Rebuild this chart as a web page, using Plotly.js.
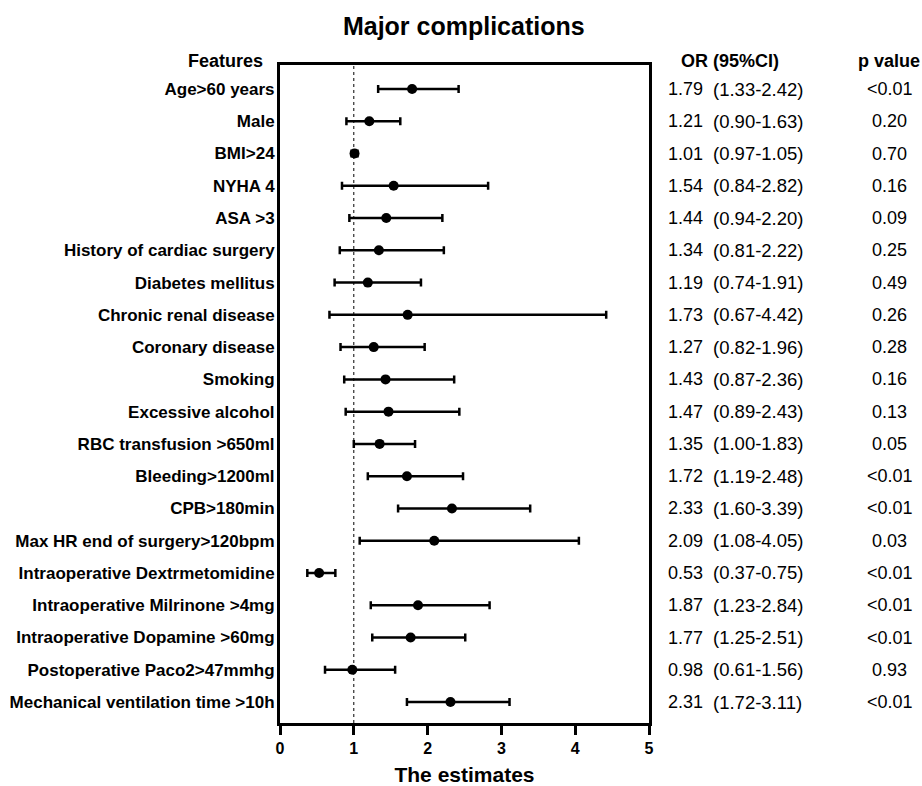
<!DOCTYPE html>
<html>
<head>
<meta charset="utf-8">
<script src="https://cdn.plot.ly/plotly-3.0.1.min.js"></script>
<style>html,body{margin:0;padding:0;background:#fff;}#chart{width:922px;height:786px;}</style>
</head>
<body>
<div id="chart"></div>
<script>
const features = ["Age>60 years","Male","BMI>24","NYHA 4","ASA >3","History of cardiac surgery","Diabetes mellitus","Chronic renal disease","Coronary disease","Smoking","Excessive alcohol","RBC transfusion >650ml","Bleeding>1200ml","CPB>180min","Max HR end of surgery>120bpm","Intraoperative Dextrmetomidine","Intraoperative Milrinone >4mg","Intraoperative Dopamine >60mg","Postoperative Paco2>47mmhg","Mechanical ventilation time >10h"];
const orValues = [1.79,1.21,1.01,1.54,1.44,1.34,1.19,1.73,1.27,1.43,1.47,1.35,1.72,2.33,2.09,0.53,1.87,1.77,0.98,2.31];
const ciLower = [1.33,0.90,0.97,0.84,0.94,0.81,0.74,0.67,0.82,0.87,0.89,1.00,1.19,1.60,1.08,0.37,1.23,1.25,0.61,1.72];
const ciUpper = [2.42,1.63,1.05,2.82,2.20,2.22,1.91,4.42,1.96,2.36,2.43,1.83,2.48,3.39,4.05,0.75,2.84,2.51,1.56,3.11];
const pValues = ["<0.01","0.20","0.70","0.16","0.09","0.25","0.49","0.26","0.28","0.16","0.13","0.05","<0.01","<0.01","0.03","<0.01","<0.01","<0.01","0.93","<0.01"];
const xTicks = [0,1,2,3,4,5];
const refValue = 1;

const rows = features.map((_, i) => i + 1);
const FONT = "Liberation Sans, Arial, Helvetica, sans-serif";

const trace = {
  type: "scatter",
  mode: "markers",
  x: orValues,
  y: rows,
  marker: {color: "#000", size: 10, symbol: "circle"},
  error_x: {
    type: "data",
    symmetric: false,
    array: orValues.map((v, i) => +(ciUpper[i] - v).toFixed(4)),
    arrayminus: orValues.map((v, i) => +(v - ciLower[i]).toFixed(4)),
    color: "#000",
    thickness: 2.5,
    width: 4
  },
  hoverinfo: "skip",
  showlegend: false
};

const annotations = [];
rows.forEach((r, i) => {
  annotations.push({xref: "paper", yref: "y", x: 1.046, y: r, xanchor: "left", yanchor: "middle",
    text: orValues[i].toFixed(2), showarrow: false, font: {family: FONT, size: 18, color: "#000"}});
  annotations.push({xref: "paper", yref: "y", x: 1.168, y: r, xanchor: "left", yanchor: "middle",
    text: "(" + ciLower[i].toFixed(2) + "-" + ciUpper[i].toFixed(2) + ")", showarrow: false,
    font: {family: FONT, size: 18.5, color: "#000"}});
  annotations.push({xref: "paper", yref: "y", x: 1.653, y: r, xanchor: "center", yanchor: "middle",
    text: pValues[i], showarrow: false, font: {family: FONT, size: 18, color: "#000"}});
});
annotations.push({xref: "paper", yref: "paper", x: -0.041, y: 1.0065, xanchor: "right", yanchor: "middle",
  text: "Features", showarrow: false, font: {family: FONT, size: 18, color: "#000", weight: "bold"}});
annotations.push({xref: "paper", yref: "paper", x: 1.22, y: 1.0065, xanchor: "center", yanchor: "middle",
  text: "OR (95%CI)", showarrow: false, font: {family: FONT, size: 18, color: "#000", weight: "bold"}});
annotations.push({xref: "paper", yref: "paper", x: 1.651, y: 1.0065, xanchor: "center", yanchor: "middle",
  text: "p value", showarrow: false, font: {family: FONT, size: 18, color: "#000", weight: "bold"}});

const layout = {
  width: 922, height: 786,
  margin: {l: 280, r: 273, t: 65, b: 63, pad: 0},
  paper_bgcolor: "#fff", plot_bgcolor: "#fff",
  title: {text: "Major complications", x: 0.503, xanchor: "center", xref: "container",
    y: 0.966, yanchor: "middle", yref: "container",
    font: {family: FONT, size: 25, color: "#000", weight: "bold"}},
  xaxis: {
    range: [0, 5], tickvals: xTicks, ticktext: xTicks.map(String),
    showgrid: false, zeroline: false,
    showline: true, linecolor: "#000", linewidth: 3, mirror: true,
    ticks: "outside", ticklen: 9, tickwidth: 3, tickcolor: "#000",
    tickfont: {family: FONT, size: 16, color: "#000", weight: "bold"},
    title: {text: "The estimates", standoff: 15, font: {family: FONT, size: 21, color: "#000", weight: "bold"}},
    fixedrange: true
  },
  yaxis: {
    range: [20.65, 0.256], tickvals: rows, ticktext: features,
    showgrid: false, zeroline: false,
    showline: true, linecolor: "#000", linewidth: 3, mirror: true,
    ticks: "", ticklabelstandoff: -1,
    tickfont: {family: FONT, size: 17, color: "#000", weight: "bold"},
    fixedrange: true
  },
  shapes: [{type: "line", xref: "x", yref: "paper", x0: refValue, x1: refValue, y0: 0, y1: 1,
    line: {color: "#000", width: 1, dash: "dot"}, layer: "below"}],
  annotations: annotations
};

Plotly.newPlot("chart", [trace], layout, {displayModeBar: false, staticPlot: true});
</script>
</body>
</html>
